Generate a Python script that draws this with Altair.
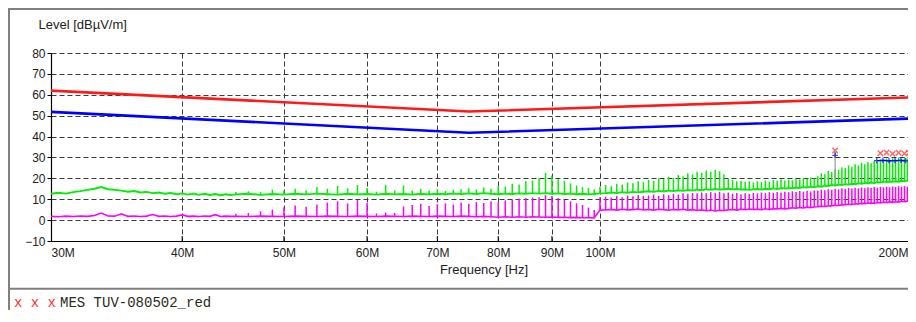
import altair as alt
import pandas as pd

# ---------------- data ----------------
# frequencies in MHz
LIMIT_F = [30.0, 75.0, 200.0]
RED_LIMIT = [62.0, 52.0, 58.8]
BLUE_LIMIT = [51.8, 41.8, 48.7]

LOW_F = [30, 30.5, 31, 31.5, 32, 32.5, 33, 33.5, 34, 34.5, 35, 35.5, 36, 36.5, 37,
         37.5, 38, 38.5, 39, 39.5, 40, 40.5, 41, 41.5, 42, 42.5, 43, 43.5, 44, 44.5]
LOW_GREEN = [12.6, 13.1, 12.7, 13.4, 13.9, 14.5, 15.0, 15.8, 14.8, 14.5, 14.1, 13.6, 13.9,
             13.2, 13.5, 12.9, 13.2, 12.6, 13.0, 12.4, 12.8, 12.2, 12.7, 12.1, 12.6, 12.0,
             12.5, 11.9, 12.4, 12.0]
LOW_MAG = [1.8, 1.6, 1.9, 1.7, 2.0, 1.8, 2.2, 3.4, 2.0, 1.9, 3.0, 1.8, 2.0, 1.7, 1.9,
           2.7, 1.8, 2.0, 1.7, 1.9, 2.5, 1.8, 1.9, 1.7, 2.0, 1.8, 2.6, 1.7, 1.9, 1.8]

COMB_F = [45.0, 46.25, 47.5, 48.75, 50.0, 51.25, 52.5, 53.75, 55.0, 56.25, 57.5, 58.75,
          60.0, 61.25, 62.5, 63.75, 65.0, 66.25, 67.5, 68.75, 70.0, 71.25, 72.5, 73.75,
          75.0, 76.25, 77.5, 78.75, 80.0, 81.25, 82.5, 83.75, 85.0, 86.25, 87.5, 88.75,
          90.0, 91.25, 92.5, 93.75, 95.0, 96.25, 97.5, 98.75, 100.0,
          101.25, 102.5, 103.75, 105.0, 106.25, 107.5, 108.75, 110.0,
          111.25, 112.5, 113.75, 115.0, 116.25, 117.5, 118.75, 120.0,
          121.25, 122.5, 123.75, 125.0, 126.25, 127.5, 128.75, 130.0,
          131.25, 132.5, 133.75, 135.0, 136.25, 137.5, 138.75, 140.0,
          141.25, 142.5, 143.75, 145.0, 146.25, 147.5, 148.75, 150.0,
          151.25, 152.5, 153.75, 155.0, 156.25, 157.5, 158.75, 160.0,
          161.25, 162.5, 163.75, 165.0, 166.25, 167.5, 168.75, 170.0,
          171.25, 172.5, 173.75, 175.0, 176.25, 177.5, 178.75, 180.0,
          181.25, 182.5, 183.75, 185.0, 186.25, 187.5, 188.75, 190.0,
          191.25, 192.5, 193.75, 195.0, 196.25, 197.5, 198.75, 200.0]

MAG_BASE = [1.8, 1.7, 1.9, 1.8, 1.7, 1.9, 1.8, 1.7, 1.9, 1.8, 1.7, 1.9,
            1.8, 1.7, 1.9, 1.8, 1.7, 1.9, 1.8, 1.7, 1.9, 1.8, 1.7, 1.9,
            1.8, 1.6, 1.8, 1.6, 1.4, 1.6, 1.4, 1.6, 1.4, 1.6, 1.5, 1.4,
            1.5, 1.3, 1.4, 1.2, 1.3, 1.1, 1.2, 1.0, 4.8,
            4.9, 5.1, 4.8, 5.2, 4.9, 5.0, 5.3, 4.9,
            5.1, 4.8, 5.2, 5.0, 4.7, 5.1, 4.9, 5.2,
            4.8, 5.0, 4.6, 4.9, 4.5, 4.8, 4.4, 4.7,
            4.6, 4.9, 5.1, 4.8, 5.2, 5.0, 5.3, 5.1,
            5.2, 5.0, 5.4, 5.1, 5.5, 5.3, 5.6, 5.4,
            5.6, 5.9, 5.7, 6.0, 5.8, 6.2, 6.0, 6.3,
            6.4, 6.7, 6.5, 6.9, 6.8, 7.1, 7.0, 7.3,
            7.4, 7.6, 7.5, 7.8, 7.7, 8.0, 7.9, 8.1,
            8.2, 8.0, 8.4, 8.2, 8.6, 8.3, 8.7, 8.5,
            8.8, 8.6, 9.0, 8.8, 9.1, 8.9, 9.2, 9.0]
MAG_PEAK = [3.0, 3.4, 4.2, 5.0, 6.2, 7.0, 6.4, 7.5, 8.4, 9.0, 8.0, 9.6,
            8.2, 3.2, 3.6, 3.4, 6.5, 7.2, 7.8, 6.8, 7.6, 8.0, 7.4, 8.4,
            7.8, 8.6, 8.2, 9.0, 8.6, 9.4, 9.8, 10.2, 10.6, 10.8, 11.0, 12.0,
            11.6, 10.6, 9.8, 9.0, 8.0, 7.2, 6.0, 4.8, 11.0,
            11.2, 10.8, 11.6, 11.0, 11.8, 11.4, 12.0, 11.6,
            11.8, 12.2, 11.6, 12.4, 12.0, 12.6, 12.2, 12.8,
            12.6, 13.0, 12.8, 13.2, 12.9, 13.4, 13.0, 13.6,
            12.8, 13.2, 12.6, 13.0, 12.4, 12.8, 12.6, 13.0,
            12.8, 13.2, 12.9, 13.4, 13.0, 13.5, 13.2, 13.6,
            13.4, 13.8, 13.5, 13.9, 13.6, 14.0, 13.7, 14.2,
            14.2, 14.6, 14.3, 14.8, 14.5, 15.0, 14.7, 15.2,
            15.0, 15.4, 15.1, 15.5, 15.2, 15.6, 15.3, 15.7,
            15.4, 15.8, 15.5, 15.9, 15.6, 16.0, 15.7, 16.1,
            15.8, 16.2, 15.9, 16.3, 16.0, 16.4, 16.1, 16.5]
GREEN_BASE = [12.3, 12.6, 12.1, 12.5, 12.2, 12.6, 12.3, 12.7, 12.4, 12.2, 12.6, 12.3,
              12.5, 12.2, 12.6, 12.3, 12.5, 12.2, 12.6, 12.3, 12.6, 12.4, 12.7, 12.5,
              12.8, 12.5, 12.9, 12.6, 12.4, 12.7, 12.5, 12.8, 12.6, 12.9, 12.7, 12.9,
              12.6, 12.8, 12.5, 12.7, 12.4, 12.6, 12.3, 12.5, 12.8,
              12.9, 13.2, 13.0, 13.4, 13.1, 13.5, 13.3, 13.6,
              13.8, 13.5, 14.0, 13.7, 14.1, 13.9, 14.3, 14.0,
              14.4, 14.1, 14.6, 14.3, 14.8, 14.5, 14.9, 14.6,
              14.8, 15.0, 14.7, 14.9, 14.6, 14.8, 14.5, 14.7,
              14.9, 14.6, 15.0, 14.8, 15.2, 14.9, 15.3, 15.1,
              15.4, 15.2, 15.6, 15.4, 15.8, 15.6, 16.0, 15.8,
              16.2, 16.0, 16.5, 16.3, 16.8, 16.6, 17.0, 16.8,
              17.2, 17.0, 17.4, 17.2, 17.6, 17.4, 17.8, 17.6,
              18.0, 17.8, 18.2, 18.0, 18.4, 18.2, 18.5, 18.3,
              18.6, 18.4, 18.8, 18.6, 19.0, 18.8, 19.2, 19.0]
GREEN_PEAK = [13.5, 13.8, 13.6, 14.6, 14.0, 15.0, 14.2, 15.8, 15.0, 16.4, 15.2, 16.8,
              15.4, 13.6, 16.8, 14.2, 16.6, 14.0, 15.0, 14.2, 14.8, 14.0, 14.6, 14.8,
              15.2, 14.6, 15.6, 15.0, 16.4, 16.0, 17.4, 17.0, 18.6, 19.0, 20.2, 22.6,
              21.4, 19.6, 18.8, 17.6, 16.6, 15.8, 15.4, 14.6, 15.8,
              16.8, 16.2, 17.4, 17.0, 18.0, 17.6, 18.6, 18.2,
              19.2, 18.8, 20.0, 19.6, 20.8, 20.2, 21.6, 21.0,
              22.4, 21.8, 23.2, 22.6, 23.8, 23.0, 24.0, 23.4,
              22.0, 19.8, 19.2, 18.6, 18.8, 18.2, 18.6, 18.0,
              18.6, 18.2, 19.0, 18.4, 19.2, 18.8, 19.6, 19.0,
              19.4, 19.0, 19.8, 19.4, 20.2, 19.8, 20.4, 20.0,
              21.0, 22.4, 22.0, 23.6, 23.0, 24.4, 24.0, 25.2,
              25.0, 26.2, 25.6, 26.8, 26.2, 27.4, 26.8, 27.8,
              27.2, 28.4, 27.8, 29.0, 28.2, 29.4, 28.6, 29.6,
              29.0, 30.0, 29.2, 30.2, 29.4, 30.4, 29.6, 30.6]

# final measurement markers
MES_F = [167.5, 185.0, 187.5, 190.0, 192.5, 195.0, 197.0]
MES_LEVEL = [33.3, 32.0, 32.4, 31.8, 32.2, 31.9, 32.3]
AVG_F = [167.5, 183.5, 186.0, 188.5, 191.0, 193.5, 195.5]
AVG_LEVEL = [31.0, 28.5, 28.6, 28.4, 28.5, 28.6, 28.4]
STEM_F = [167.5]
STEM_LOW = [19.2]
STEM_HIGH = [32.6]

X_TICKS = [30, 40, 50, 60, 70, 80, 90, 100, 200]
Y_TICKS = [-10, 0, 10, 20, 30, 40, 50, 60, 70, 80]

# ---------------- chart ----------------
FONT = "Liberation Sans"
TXT = "#222222"
GRID = "#3a3a3a"

x_axis = alt.Axis(values=X_TICKS, labelExpr="datum.value + 'M'", labelFlush=True,
                  labelOffset={"condition": {"test": "datum.value >= 200", "value": -8}, "value": 0},
                  grid=True, gridDash=[5, 3], gridColor=GRID, gridWidth=1,
                  ticks=False, tickSize=0, labelPadding=6, domainColor="black",
                  domainWidth=1.2, labelFont=FONT, labelFontSize=12, labelColor=TXT,
                  title="Frequency [Hz]", titleFont=FONT, titleFontSize=13,
                  titleFontWeight="normal", titleColor=TXT, titlePadding=5)
y_axis = alt.Axis(values=Y_TICKS, grid=True, gridDash=[5, 3], gridColor=GRID, gridWidth=1,
                  tickSize=4, tickColor="black", labelPadding=2, domainColor="black",
                  domainWidth=1.2, labelFont=FONT, labelFontSize=12, labelColor=TXT,
                  title="Level [dB\u00b5V/m]", titleAngle=0, titleAlign="left",
                  titleBaseline="middle", titleX=-13, titleY=-29, titleFont=FONT,
                  titleFontSize=13, titleFontWeight="normal", titleColor=TXT)

xs = alt.Scale(type="log", domain=[30, 200], nice=False)
ys = alt.Scale(domain=[-10, 80], nice=False, zero=False)


def X():
    return alt.X("f:Q", scale=xs, axis=x_axis)


def Y(field="level"):
    return alt.Y(f"{field}:Q", scale=ys, axis=y_axis)


green_line = pd.DataFrame({"f": LOW_F + COMB_F, "level": LOW_GREEN + GREEN_BASE})
mag_line = pd.DataFrame({"f": LOW_F + COMB_F, "level": LOW_MAG + MAG_BASE})
green_spk = pd.DataFrame({"f": COMB_F, "level": GREEN_BASE, "level2": GREEN_PEAK})
mag_spk = pd.DataFrame({"f": COMB_F, "level": MAG_BASE, "level2": MAG_PEAK})
red_df = pd.DataFrame({"f": LIMIT_F, "level": RED_LIMIT})
blue_df = pd.DataFrame({"f": LIMIT_F, "level": BLUE_LIMIT})
mes_df = pd.DataFrame({"f": MES_F, "level": MES_LEVEL})
avg_df = pd.DataFrame({"f": AVG_F, "level": AVG_LEVEL})
avg_cluster = pd.DataFrame({"f": AVG_F[1:], "level": AVG_LEVEL[1:]})
stem_df = pd.DataFrame({"f": STEM_F, "level": STEM_LOW, "level2": STEM_HIGH})
tick_df = pd.DataFrame({"f": X_TICKS[1:], "level": [-10] * 8, "level2": [-7.6] * 8})
one = pd.DataFrame({"k": [0]})

layers = [
    alt.Chart(tick_df).mark_rule(color="black", strokeWidth=1).encode(x=X(), y=Y(), y2="level2:Q"),
    alt.Chart(mag_spk).mark_rule(color="#ff00ff", strokeWidth=1.5).encode(x=X(), y=Y(), y2="level2:Q"),
    alt.Chart(mag_line).mark_line(color="#ff00ff", strokeWidth=1.6).encode(x=X(), y=Y()),
    alt.Chart(green_spk).mark_rule(color="#00f000", strokeWidth=1.5).encode(x=X(), y=Y(), y2="level2:Q"),
    alt.Chart(green_line).mark_line(color="#00f000", strokeWidth=1.9).encode(x=X(), y=Y()),
    alt.Chart(red_df).mark_line(color="#ff1a1a", strokeWidth=2.6).encode(x=X(), y=Y()),
    alt.Chart(blue_df).mark_line(color="#0000ff", strokeWidth=2.6).encode(x=X(), y=Y()),
    alt.Chart(stem_df).mark_rule(color="#999999", strokeWidth=1.2).encode(x=X(), y=Y(), y2="level2:Q"),
    alt.Chart(avg_cluster).mark_line(color="#0000ff", strokeWidth=1.2).encode(x=X(), y=Y()),
    alt.Chart(avg_df).mark_point(shape="M-1,0L1,0M0,-1L0,1", size=30, filled=False,
                                 color="#0000ff", strokeWidth=1.4).encode(x=X(), y=Y()),
    alt.Chart(mes_df).mark_point(shape="M-1,-1L1,1M-1,1L1,-1", size=30, filled=False,
                                 color="#ff2020", strokeWidth=1.4).encode(x=X(), y=Y()),
    # frame of the report
    alt.Chart(one).mark_rule(color="#808080", strokeWidth=2).encode(
        x=alt.value(-43), x2=alt.value(857), y=alt.value(-44)),
    alt.Chart(one).mark_rule(color="#808080", strokeWidth=2).encode(
        x=alt.value(-42), y=alt.value(-45), y2=alt.value(257)),
    alt.Chart(one).mark_rule(color="#808080", strokeWidth=2).encode(
        x=alt.value(-43), x2=alt.value(857), y=alt.value(235.7)),
    # legend line under the plot
    alt.Chart(one).mark_text(text="x x x", align="left", baseline="middle", font="Liberation Mono",
                             fontSize=14, color="#ff3030").encode(x=alt.value(-37), y=alt.value(250)),
    alt.Chart(one).mark_text(text="MES  TUV-080502_red", align="left", baseline="middle",
                             font="Liberation Mono", fontSize=14, color="#2a2a1a").encode(
        x=alt.value(9), y=alt.value(250)),
]

chart = alt.layer(*layers).properties(
    width=865, height=188,
    padding={"left": 43, "top": 45, "right": -8, "bottom": 69},
    autosize="none",
    background="white",
).configure_view(stroke=None)

chart.save("out.html", embed_options={"renderer": "svg", "actions": False})
